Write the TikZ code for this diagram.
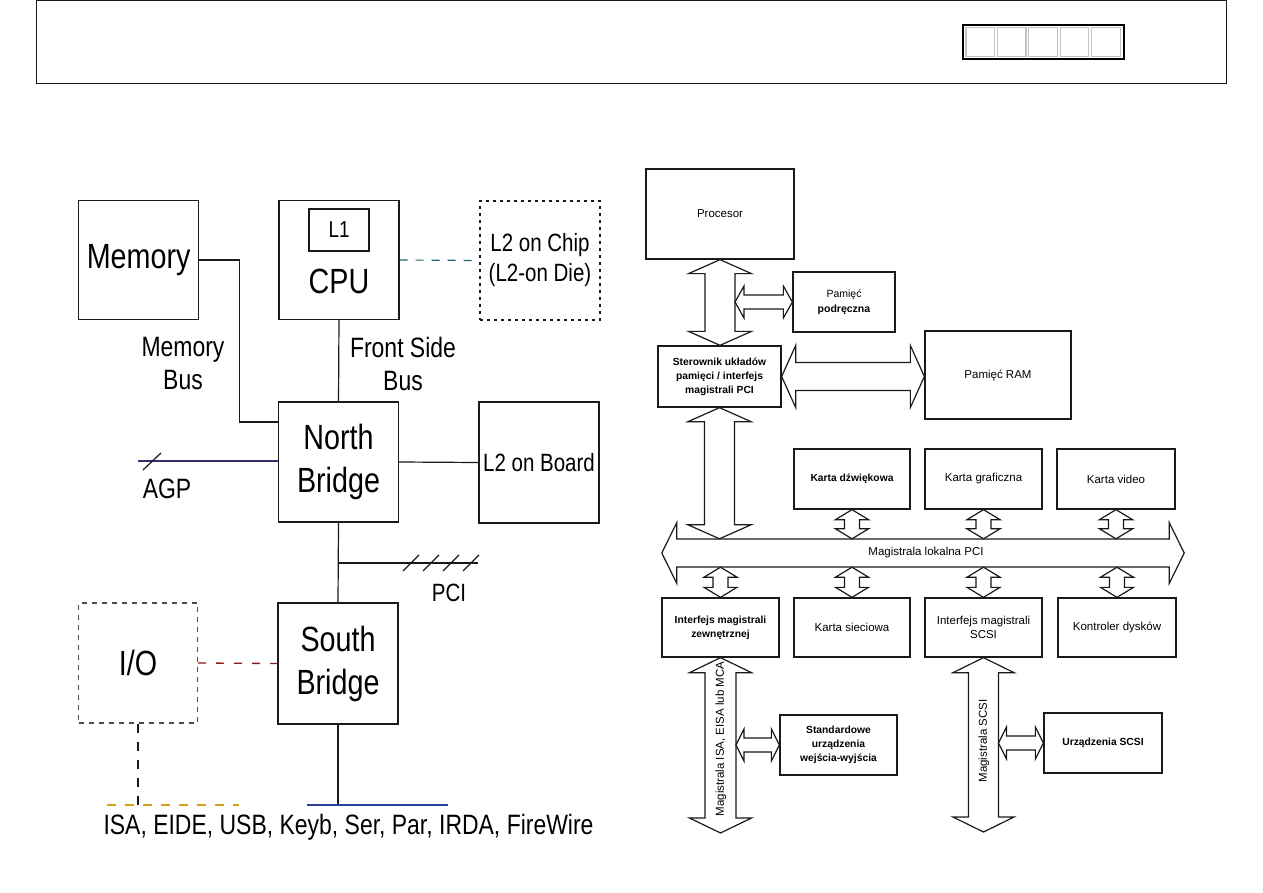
\documentclass[tikz,border=0pt]{standalone}
\usepackage{fontspec}
\setmainfont{Liberation Sans}
\newfontfamily\narrowsf[FakeStretch=0.82]{Liberation Sans}
\usepackage{tikz}
\usetikzlibrary{calc}
\definecolor{inkblack}{HTML}{1A1A1A}
\definecolor{agpline}{HTML}{3A2A6E}
\definecolor{busblue}{HTML}{2B3D9E}
\definecolor{iolink}{HTML}{8C1A1A}
\definecolor{chiplink}{HTML}{2F5F70}
\definecolor{golddash}{HTML}{D4A017}
\definecolor{cellgray}{HTML}{C4C4C4}
\tikzset{
  chipbox/.style={
    draw=inkblack, line width=1.4pt,
    minimum width=120pt, minimum height=119pt,
    inner sep=0pt, align=center,
    font=\narrowsf\fontsize{35}{43}\selectfont
  },
  bigtxt/.style={font=\narrowsf\fontsize{35}{43}\selectfont, inner sep=0pt},
  midtxt/.style={font=\narrowsf\fontsize{28}{33}\selectfont, align=center, inner sep=0pt},
  smtxt/.style={font=\narrowsf\fontsize{25}{30}\selectfont},
  dotbox/.style={dash pattern=on 3pt off 4pt},
  wire/.style={draw=inkblack, line width=1.2pt},
  pcbox/.style={
    draw=inkblack, line width=1.3pt, inner sep=2pt, align=center,
    font=\fontsize{11.5}{14}\selectfont
  },
  pcbold/.style={pcbox, font=\bfseries\fontsize{10.3}{14}\selectfont},
  fatarrow/.style={draw=inkblack, fill=white, line width=1.2pt, line join=miter},
}
% fat double arrows: top/left tip, bottom/right tip, shaft half, head half, head length
\newcommand{\fatV}[5]{%
  \draw[fatarrow] let \p1=#1, \p2=#2 in
    (\x1,\y1) -- (\x1+#4,\y1-#5) -- (\x1+#3,\y1-#5) -- (\x1+#3,\y2+#5)
    -- (\x1+#4,\y2+#5) -- (\x1,\y2) -- (\x1-#4,\y2+#5) -- (\x1-#3,\y2+#5)
    -- (\x1-#3,\y1-#5) -- (\x1-#4,\y1-#5) -- cycle;}
\newcommand{\fatH}[5]{%
  \draw[fatarrow] let \p1=#1, \p2=#2 in
    (\x1,\y1) -- (\x1+#5,\y1+#4) -- (\x1+#5,\y1+#3) -- (\x2-#5,\y1+#3)
    -- (\x2-#5,\y1+#4) -- (\x2,\y1) -- (\x2-#5,\y1-#4) -- (\x2-#5,\y1-#3)
    -- (\x1+#5,\y1-#3) -- (\x1+#5,\y1-#4) -- cycle;}

\begin{document}
\begin{tikzpicture}[x=1pt, y=-1pt]
\useasboundingbox (0,0) rectangle (1263,893);
\fill[white] (0,0) rectangle (1263,893);

% HEADER
\draw[inkblack, line width=1pt] (36,1) rectangle (1226,84);
\draw[black, line width=1.8pt] (963,25) rectangle (1124,59);
\foreach \i in {0,...,4}
  \draw[cellgray, line width=1.2pt] (966+31.4*\i,27.5) rectangle ++(28.6,29);

% LEFT: chipset diagram
\node[chipbox] (mem) at (138.6,260) {Memory};
\node[chipbox] (cpu) at (339,260) {};
\node[chipbox, minimum width=60pt, minimum height=42pt, line width=1.2pt,
      font=\narrowsf\fontsize{23}{26}\selectfont] (l1) at (339,230) {L1};
\node[bigtxt] (cpulbl) at (339,281) {CPU};
\node[chipbox, dotbox, font=\narrowsf\fontsize{25}{30}\selectfont] (chip) at (540,260.5) {L2 on Chip\\(L2-on Die)};
\node[chipbox, minimum height=120pt] (nb) at (338.5,462) {North\\Bridge};
\node[chipbox, minimum height=121pt, font=\narrowsf\fontsize{25}{30}\selectfont] (board) at (539,462.5) {L2 on Board};
\node[chipbox, minimum height=121pt] (sb) at (338,663.5) {South\\Bridge};
\node[chipbox, draw=black!70, dash pattern=on 5pt off 5pt, minimum width=119pt, minimum height=120pt] (io) at (138,663) {I/O};

% bus labels
\node[midtxt] (membus) at (183,363.5) {Memory\\Bus};
\node[midtxt] (fsb) at (403,363.5) {Front Side\\Bus};
\node[midtxt] (agplbl) at (167,489) {AGP};
\node[smtxt] (pcilbl) at (449,593) {PCI};

% connections
\draw[wire] (mem.east) -- ++(40,0) |- ([yshift=40pt]nb.west);
\draw[wire] (cpu.south) -- (nb.north);
\draw[chiplink, line width=1.2pt, dash pattern=on 8pt off 8pt] (cpu.east) -- (chip.west);
\draw[wire] (nb.east) -- (board.west);
\coordinate (agpend) at (138,461);
\draw[agpline, line width=1.3pt] (agpend) -- (nb.west |- agpend);
\draw[wire] ($(agpend)+(5,9)$) -- ++(18,-17);
\draw[wire] (nb.south) -- (sb.north);
\coordinate (pcitap) at (338.5,563);
\coordinate (pciend) at (478,563);
\draw[wire] (pcitap) -- (pciend);
\foreach \i in {0,...,3}
  \draw[wire] (403+20*\i,571) -- ++(16,-16);
\draw[iolink, line width=1.3pt, dash pattern=on 8pt off 10pt] (io.east) -- (sb.west);

% bottom bus
\coordinate (busL) at (307,805);
\coordinate (busR) at (448,805);
\coordinate (ioL) at (107,805);
\coordinate (ioR) at (239,805);
\draw[wire] (sb.south) -- (sb.south |- busL);
\draw[busblue, line width=1.6pt] (busL) -- (busR);
\draw[inkblack, line width=1.2pt, dash pattern=on 9pt off 9pt] (io.south) -- (io.south |- ioL);
\draw[golddash, line width=1.6pt, dash pattern=on 9pt off 9pt] (ioL) -- (ioR);
\node[midtxt] (ports) at (348.5,827) {ISA, EIDE, USB, Keyb, Ser, Par, IRDA, FireWire};

% RIGHT: PCI system diagram
\node[pcbox, minimum width=148pt, minimum height=90pt] (proc) at (720,214) {Procesor};
\node[pcbox, minimum width=102pt, minimum height=60pt, font=\fontsize{10.5}{15}\selectfont] (pam) at (844,302) {Pamięć\\\textbf{podręczna}};
\node[pcbold, minimum width=123pt, minimum height=61pt] (ster) at (719.5,376.5) {Sterownik układów\\pamięci / interfejs\\magistrali PCI};
\node[pcbox, minimum width=146pt, minimum height=88pt] (ram) at (998,375) {Pamięć RAM};

\node[pcbold, minimum width=116pt, minimum height=60pt] (dzw) at (852,479) {Karta dźwiękowa};
\node[pcbox, minimum width=117pt, minimum height=60pt] (graf) at (983.5,479) {Karta graficzna};
\node[pcbox, minimum width=118pt, minimum height=60pt] (video) at (1116,479) {Karta video};

\node[pcbold, minimum width=117pt, minimum height=59pt] (zew) at (720.5,627.5) {Interfejs magistrali\\zewnętrznej};
\node[pcbox, minimum width=116pt, minimum height=59pt] (siec) at (852,627.5) {Karta sieciowa};
\node[pcbox, minimum width=117pt, minimum height=59pt] (scsi) at (983.5,627.5) {Interfejs magistrali\\SCSI};
\node[pcbox, minimum width=118pt, minimum height=59pt] (kontr) at (1117,627.5) {Kontroler dysków};

\node[pcbold, minimum width=117pt, minimum height=60pt] (std) at (838.5,745) {Standardowe\\urządzenia\\wejścia-wyjścia};
\node[pcbold, minimum width=118pt, minimum height=60pt] (usc) at (1103,743) {Urządzenia SCSI};

% local bus
\node[minimum width=492pt, minimum height=28pt, inner sep=0pt] (pcibus) at (922,553) {};
\fatH{([xshift=-14pt]pcibus.west)}{([xshift=16pt]pcibus.east)}{14pt}{30.5pt}{15pt}
\node[pcbox, draw=none] (buslbl) at (926,553) {Magistrala lokalna PCI};

% processor / controller / memory
\fatV{(proc.south)}{(ster.north)}{15pt}{31.5pt}{14pt}
\coordinate (shaftR) at ($(proc.south)+(15,0)$);
\fatH{(shaftR |- pam.west)}{(pam.west)}{7pt}{16pt}{9pt}
\fatH{(ster.east)}{(ster.east -| ram.west)}{14pt}{31pt}{14pt}
\fatV{(ster.south)}{(pcibus.north)}{15pt}{31.5pt}{14pt}

% cards on the bus
\foreach \card in {dzw,graf,video}{
  \fatV{(\card.south)}{(pcibus.north)}{7.5pt}{16.5pt}{10pt}
}
\foreach \card in {zew,siec,scsi,kontr}{
  \fatV{(\card.north |- pcibus.south)}{(\card.north)}{7.5pt}{16.5pt}{10pt}
}

% expansion buses
\coordinate (isaend) at (720.5,833);
\coordinate (scsiend) at (983.5,832);
\fatV{(zew.south)}{(isaend)}{15.5pt}{31pt}{15pt}
\fatV{(scsi.south)}{(scsiend)}{15pt}{30.5pt}{15pt}
\coordinate (isaR) at ($(zew.south)+(15.5,0)$);
\coordinate (scsiR) at ($(scsi.south)+(15,0)$);
\fatH{(isaR |- std.west)}{(std.west)}{7pt}{16pt}{8pt}
\fatH{(scsiR |- usc.west)}{(usc.west)}{7pt}{16pt}{8pt}
\node[pcbox, draw=none, rotate=90] (isalbl) at (721,739) {Magistrala ISA, EISA lub MCA};
\node[pcbox, draw=none, rotate=90] (scsilbl) at (984,741) {Magistrala SCSI};

\end{tikzpicture}
\end{document}
